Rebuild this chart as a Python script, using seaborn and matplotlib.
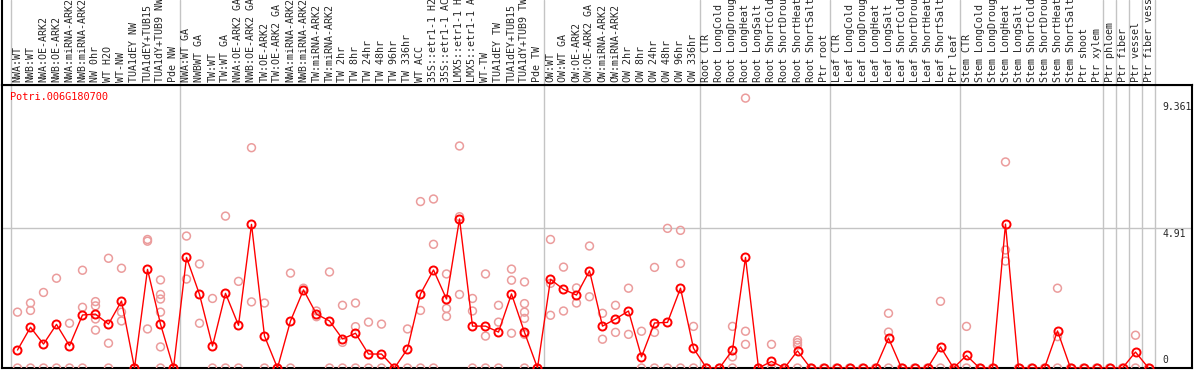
import numpy as np
import pandas as pd
import seaborn as sns
import matplotlib
matplotlib.use("Agg")
import matplotlib.pyplot as plt

# data
gene = "Potri.006G180700"

samples = [
    "NWA:WT", "NWB:WT", "NWA:OE-ARK2", "NWB:OE-ARK2", "NWA:miRNA-ARK2", "NWB:miRNA-ARK2",
    "NW 0hr", "WT H2O", "WT-NW", "TUA1dEY NW", "TUA1dEY+TUB15", "TUA1dY+TUB9 NW", "Pde NW",
    "NWA:WT GA", "NWBWT GA", "TW:WT", "TW:WT GA", "NWA:OE-ARK2 GA", "NWB:OE-ARK2 GA",
    "TW:OE-ARK2", "TW:OE-ARK2 GA", "NWA:miRNA-ARK2", "NWB:miRNA-ARK2", "TW:miRNA-ARK2",
    "TW:miRNA-ARK2", "TW 2hr", "TW 8hr", "TW 24hr", "TW 48hr", "TW 96hr", "TW 336hr",
    "WT ACC", "35S::etr1-1 H2", "35S::etr1-1 AC", "LMX5::etr1-1 H", "LMX5::etr1-1 A",
    "WT-TW", "TUA1dEY TW", "TUA1dEY+TUB15", "TUA1dY+TUB9 TW", "Pde TW",
    "OW:WT", "OW:WT GA", "OW:OE-ARK2", "OW:OE-ARK2 GA", "OW:miRNA-ARK2", "OW:miRNA-ARK2",
    "OW 2hr", "OW 8hr", "OW 24hr", "OW 48hr", "OW 96hr", "OW 336hr",
    "Root CTR", "Root LongCold", "Root LongDroug", "Root LongHeat", "Root LongSalt",
    "Root ShortCold", "Root ShortDrou", "Root ShortHeat", "Root ShortSalt", "Ptr root",
    "Leaf CTR", "Leaf LongCold", "Leaf LongDroug", "Leaf LongHeat", "Leaf LongSalt",
    "Leaf ShortCold", "Leaf ShortDrou", "Leaf ShortHeat", "Leaf ShortSalt", "Ptr leaf",
    "Stem CTR", "Stem LongCold", "Stem LongDroug", "Stem LongHeat", "Stem LongSalt",
    "Stem ShortCold", "Stem ShortDrou", "Stem ShortHeat", "Stem ShortSalt", "Ptr shoot",
    "Ptr xylem", "Ptr phloem", "Ptr fiber", "Ptr vessel", "Ptr fiber vess",
]

# index of first sample in each group (last entry = end)
group_starts = [0, 13, 41, 53, 63, 73, 84, 85, 86, 87, 88]

mean_expr = [
    0.63, 1.43, 0.84, 1.53, 0.78, 1.86, 1.89, 1.54, 2.35, 0.0, 3.46, 1.54, 0.0,
    3.88, 2.58, 0.77, 2.62, 1.50, 5.04, 1.12, 0.0, 1.65, 2.74, 1.89, 1.65, 1.02,
    1.22, 0.49, 0.49, 0.0, 0.67, 2.60, 3.44, 2.42, 5.23, 1.47, 1.47, 1.26, 2.60,
    1.25, 0.0,
    3.11, 2.76, 2.56, 3.41, 1.47, 1.72, 2.00, 0.39, 1.58, 1.60, 2.80, 0.69,
    0.0, 0.0, 0.63, 3.88, 0.0, 0.23, 0.0, 0.60, 0.0, 0.0,
    0.0, 0.0, 0.0, 0.0, 1.05, 0.0, 0.0, 0.0, 0.74, 0.0,
    0.44, 0.0, 0.0, 5.05, 0.0, 0.0, 0.0, 1.30, 0.0, 0.0, 0.0,
    0.0, 0.0, 0.56, 0.0,
]

rep_expr = [
    [1.96, 0], [2.28, 2.02, 0], [2.65, 0], [3.15, 0], [1.57, 0], [3.43, 2.13, 0],
    [2.33, 2.18, 1.72, 1.33], [3.85, 0.87, 0], [3.50, 1.96, 1.65], [0],
    [4.51, 4.45, 1.37], [3.09, 2.58, 2.42, 1.96, 0.74, 0], [0],
    [4.63, 3.12], [3.65, 1.57], [2.44, 0], [5.33, 0], [3.04, 0], [7.73, 2.32],
    [2.28, 0], [0], [3.33, 0], [2.80], [2.00, 1.80], [3.37, 0], [2.20, 0.90, 0],
    [2.28, 1.45, 0], [1.61, 0], [1.54, 0], [0], [1.37, 0], [5.84, 2.02, 0],
    [5.93, 4.34, 0], [3.30, 2.09, 1.81], [7.79, 5.31, 2.58], [2.44, 2.00, 0],
    [3.30, 1.12, 0], [2.20, 1.61, 0], [3.47, 3.08, 1.22],
    [3.02, 2.26, 1.96, 1.74, 1.18, 0], [0],
    [4.51, 2.97, 1.85], [3.54, 2.00], [2.81, 2.28], [4.28, 2.50], [1.92, 1.01],
    [2.20, 1.25], [2.80, 1.18], [1.29, 0], [3.53, 1.25, 0], [4.90, 0],
    [4.83, 3.67, 0], [1.46, 0],
    [0], [0], [1.46, 0.39, 0], [9.47, 1.29, 0.83], [0], [0.83, 0], [0],
    [0.98, 0.89, 0.80, 0], [0], [0],
    [0], [0], [0], [0], [1.92, 1.26, 0], [0], [0], [0], [2.34, 0], [0],
    [1.46, 0], [0], [0], [7.23, 4.14, 3.75], [0], [0], [0], [2.80, 1.10, 0],
    [0], [0], [0],
    [0], [0], [1.15, 0], [0],
]

y_ticks = [0, 4.91, 9.361]
y_tick_labels = ["0", "4.91", "9.361"]

rep_df = pd.DataFrame(
    [(i, v) for i, vals in enumerate(rep_expr) for v in vals], columns=["pos", "expr"]
)
mean_df = pd.DataFrame({"pos": np.arange(len(samples)), "expr": mean_expr})

sns.set_theme(style="white")
plt.rcParams["font.family"] = ["DejaVu Sans Mono", "DejaVu Sans"]

W, H = 1194, 370
fig = plt.figure(figsize=(W / 100, H / 100), dpi=100)
ax = fig.add_axes([2 / W, 2 / H, 1190 / W, 283 / H])
ax_h = fig.add_axes([2 / W, 285 / H, 1190 / W, 85 / H])

grid_c = "#c4c4c4"
pink = "#eb9c9c"

# replicate values
sns.scatterplot(data=rep_df, x="pos", y="expr", ax=ax, marker="o", s=32,
                color=pink, facecolor="none", edgecolor=pink, linewidth=1.1, zorder=3)
# mean profile
sns.lineplot(data=mean_df, x="pos", y="expr", ax=ax, estimator=None, color="red",
             lw=1, marker="o", markersize=5.8, markerfacecolor="none",
             markeredgecolor="red", markeredgewidth=1.4, zorder=4)

xlim = (-1.192, 90.346)
ax.set_xlim(xlim)
ax.set_ylim(0, 9.93)
ax.set_xticks([])
ax.set_yticks([])
ax.set_xlabel("")
ax.set_ylabel("")
for s in ax.spines.values():
    s.set_color("black")
    s.set_linewidth(1.5)

ax.axhline(4.91, color=grid_c, lw=1, zorder=1)
for b in group_starts:
    ax.axvline(b - 0.5, color=grid_c, lw=1, zorder=1)
    ax_h.axvline(b - 0.5, color=grid_c, lw=1, zorder=1)

# y labels in the right column
for v, lab in zip(y_ticks, y_tick_labels):
    if v == 0:
        ax.text(88.1, v + 0.12, lab, ha="left", va="bottom", fontsize=7)
    else:
        ax.text(88.1, v - 0.02, lab, ha="left", va="top", fontsize=7)

ax.text(-0.6, 9.5, gene, color="red", fontsize=7.4, ha="left", va="center")

# header with sample names
ax_h.set_xlim(xlim)
ax_h.set_ylim(0, 1)
ax_h.set_xticks([])
ax_h.set_yticks([])
for name, s in ax_h.spines.items():
    s.set_visible(name in ("left", "bottom"))
    s.set_color("black")
    s.set_linewidth(1.5)
for i, name in enumerate(samples):
    ax_h.text(i, 0.03, name, rotation=90, ha="center", va="bottom",
              fontsize=7.2, clip_on=False)

fig.savefig("out.png", dpi=100)
